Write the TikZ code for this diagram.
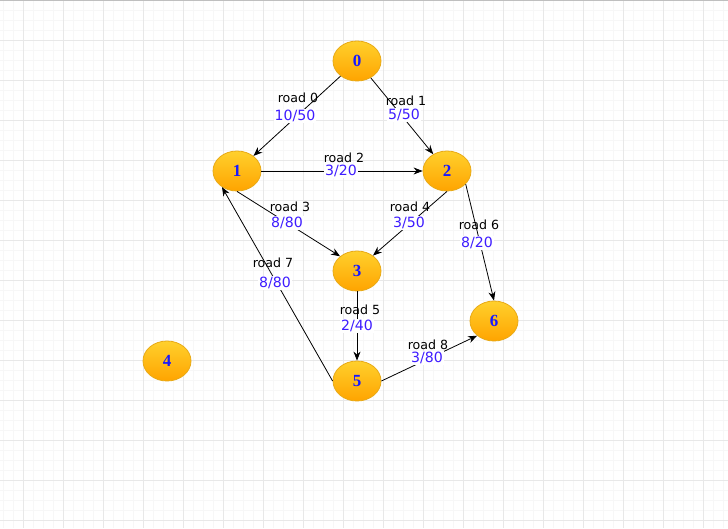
\documentclass[tikz,border=0pt]{standalone}
\usepackage{fontspec}
\setsansfont{DejaVu Sans}
\newfontfamily\cityfont{Liberation Serif}
\usepackage{xcolor}
\usepackage{tikz}
\usetikzlibrary{
    arrows.meta,
    shapes.geometric,
}

\definecolor{citytop}{RGB}{255,208,44}
\definecolor{citybot}{RGB}{255,164,0}
\definecolor{cityedge}{RGB}{232,170,22}
\definecolor{citytext}{RGB}{24,24,255}
\definecolor{flowtext}{RGB}{62,28,255}
\definecolor{majorgrid}{RGB}{232,232,232}
\definecolor{minorgrid}{RGB}{247,247,247}

\begin{document}
\begin{tikzpicture}[
        x=1pt, y=-1pt,
        >={Stealth[length=9pt, width=7pt]},
        city/.style={
            ellipse, draw=cityedge, line width=0.8pt,
            top color=citytop, bottom color=citybot,
            minimum width=48pt, minimum height=40pt, inner sep=0pt,
            text=citytext, font=\cityfont\bfseries\fontsize{17}{17}\selectfont
        },
        roadname/.style={
            inner sep=1pt, text=black,
            font=\sffamily\fontsize{12.6}{13}\selectfont
        },
        flow/.style={
            fill=white, inner sep=1pt, text=flowtext,
            font=\sffamily\fontsize{14.1}{14}\selectfont
        },
        arrow/.style={->, line width=0.8pt, black},
        minorline/.style={line width=1pt, minorgrid},
        majorline/.style={line width=1pt, majorgrid},
    ]

    % ── Grid background ──
    \useasboundingbox (0,0) rectangle (728,528);
    \fill[white] (0,0) rectangle (728,528);
    \foreach \gx in {3,13,...,723}
        \draw[minorline] (\gx,0) -- (\gx,528);
    \foreach \gy in {10,20,...,520}
        \draw[minorline] (0,\gy) -- (728,\gy);
    \foreach \gx in {23,63,...,703}
        \draw[majorline] (\gx,0) -- (\gx,528);
    \foreach \gy in {40,80,...,520}
        \draw[majorline] (0,\gy) -- (728,\gy);
    \draw[line width=1pt, black!25] (0,0.5) -- (728,0.5);

    % ── Cities ──
    \node[city] (city0) at (357,61)  {0};
    \node[city] (city1) at (237,171) {1};
    \node[city] (city2) at (447,171) {2};
    \node[city] (city3) at (357,271) {3};
    \node[city] (city4) at (167,361) {4};
    \node[city] (city5) at (357,381) {5};
    \node[city] (city6) at (494,321) {6};

    % ── Roads ──
    \draw[arrow] (city0) -- (city1);
    \draw[arrow] (city0) -- (city2);
    \draw[arrow] (city1) -- (city2);
    \draw[arrow] (city1.south) -- (city3.139);
    \draw[arrow] (city2.south) -- (city3.44);
    \draw[arrow] (city3.south) -- (city5.north);
    \draw[arrow] (city2.-35) -- (city6.north);
    \draw[arrow] (city5.west) -- (city1.227);
    \draw[arrow] (city5.east) -- (city6.221);

    % ── Road labels ──
    \node[roadname] (road0) at (298,98)  {road 0};
    \node[flow]     (flow0) at (295,116) {10/50};
    \node[roadname] (road1) at (406,101) {road 1};
    \node[flow]     (flow1) at (404,115) {5/50};
    \node[roadname] (road2) at (344,158) {road 2};
    \node[flow]     (flow2) at (341,171) {3/20};
    \node[roadname] (road3) at (290,207) {road 3};
    \node[flow]     (flow3) at (287,223) {8/80};
    \node[roadname] (road4) at (410,207) {road 4};
    \node[flow]     (flow4) at (409,223) {3/50};
    \node[roadname] (road5) at (360,310) {road 5};
    \node[flow]     (flow5) at (357,326) {2/40};
    \node[roadname] (road6) at (479,225) {road 6};
    \node[flow]     (flow6) at (477,243) {8/20};
    \node[roadname] (road7) at (273,263) {road 7};
    \node[flow]     (flow7) at (275,283) {8/80};
    \node[roadname] (road8) at (428,345) {road 8};
    \node[flow]     (flow8) at (427,358) {3/80};

\end{tikzpicture}
\end{document}
